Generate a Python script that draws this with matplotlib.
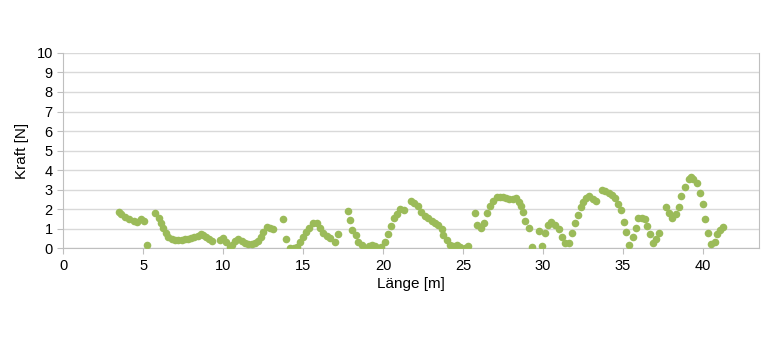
import matplotlib.pyplot as plt

plt.rcParams['font.family'] = ['Liberation Sans', 'DejaVu Sans']
plt.rcParams['font.size'] = 10.5

laenge = [3.46, 3.62, 3.87, 4.12, 4.4, 4.64, 4.87, 5.08, 5.27,
          5.75, 5.96, 6.12, 6.27, 6.42, 6.58, 6.79, 7.0, 7.2, 7.4, 7.6, 7.8,
          8.0, 8.2, 8.4, 8.6, 8.75, 8.9, 9.1, 9.3,
          9.8, 10.0, 10.2, 10.4, 10.55, 10.75, 10.96, 11.17, 11.37, 11.58,
          11.8, 12.0, 12.2, 12.35, 12.5, 12.73, 12.94, 13.1, 13.73, 13.94,
          14.2, 14.4, 14.6, 14.8, 14.98, 15.2, 15.4, 15.65, 15.85, 16.06,
          16.27, 16.48, 16.7, 17.0, 17.2, 17.8, 17.94, 18.08, 18.3, 18.46,
          18.67, 18.9, 19.1, 19.3, 19.5, 19.7, 19.9, 20.1, 20.3, 20.5, 20.7,
          20.86, 21.06, 21.3, 21.75, 21.96, 22.17, 22.4, 22.6, 22.8, 23.05,
          23.25, 23.46, 23.67, 23.77, 23.98, 24.2, 24.4, 24.6, 24.8, 25.1,
          25.3, 25.75, 25.9, 26.1, 26.3, 26.5, 26.7, 26.9, 27.1, 27.3, 27.5,
          27.7, 27.9, 28.1, 28.3, 28.5, 28.6, 28.77, 28.9, 29.1, 29.3, 29.75,
          29.96, 30.1, 30.3, 30.5, 30.75, 31.0, 31.2, 31.4, 31.6, 31.8, 32.0,
          32.2, 32.35, 32.5, 32.7, 32.9, 33.1, 33.3, 33.7, 33.9, 34.1, 34.3,
          34.5, 34.7, 34.85, 35.06, 35.2, 35.4, 35.6, 35.8, 35.96, 36.2, 36.4,
          36.5, 36.7, 36.86, 37.06, 37.27, 37.7, 37.9, 38.06, 38.3, 38.5,
          38.65, 38.9, 39.1, 39.25, 39.4, 39.6, 39.8, 39.98, 40.1, 40.3, 40.5,
          40.75, 40.9, 41.06, 41.27]
kraft = [1.83, 1.74, 1.6, 1.49, 1.38, 1.35, 1.49, 1.38, 0.15,
         1.78, 1.56, 1.27, 1.01, 0.8, 0.58, 0.46, 0.41, 0.42, 0.42, 0.45, 0.47,
         0.5, 0.55, 0.63, 0.7, 0.65, 0.58, 0.48, 0.38,
         0.4, 0.53, 0.33, 0.07, 0.15, 0.36, 0.46, 0.36, 0.24, 0.19,
         0.19, 0.24, 0.36, 0.58, 0.84, 1.09, 1.01, 0.96, 1.47, 0.46,
         0.02, 0.02, 0.07, 0.32, 0.58, 0.84, 1.04, 1.27, 1.27, 1.04,
         0.8, 0.63, 0.5, 0.32, 0.7, 1.9, 1.44, 0.92, 0.67, 0.33,
         0.15, 0.02, 0.12, 0.15, 0.12, 0.02, 0.07, 0.29, 0.75, 1.14, 1.52,
         1.73, 2.03, 1.98, 2.43, 2.29, 2.17, 1.86, 1.66, 1.52, 1.38,
         1.27, 1.18, 0.97, 0.67, 0.41, 0.15, 0.12, 0.15, 0.07, 0.02,
         0.1, 1.81, 1.18, 1.01, 1.3, 1.78, 2.15, 2.43, 2.6, 2.64, 2.6,
         2.55, 2.5, 2.5, 2.55, 2.38, 2.15, 1.86, 1.4, 1.01, 0.07, 0.87,
         0.1, 0.79, 1.18, 1.35, 1.18, 0.96, 0.58, 0.27, 0.24, 0.79, 1.27,
         1.69, 2.12, 2.38, 2.55, 2.67, 2.5, 2.43, 2.97, 2.94, 2.84, 2.72,
         2.55, 2.26, 1.95, 1.35, 0.84, 0.15, 0.58, 1.01, 1.52, 1.57, 1.47,
         1.13, 0.75, 0.27, 0.45, 0.79, 2.09, 1.78, 1.52, 1.74, 2.12,
         2.67, 3.14, 3.55, 3.66, 3.52, 3.35, 2.84, 2.26, 1.47, 0.79, 0.2,
         0.32, 0.72, 0.92, 1.06]

fig = plt.figure(figsize=(7.8, 3.53), dpi=100)
ax = fig.add_axes([0.081, 0.297, 0.892, 0.553])

ax.scatter(laenge, kraft, s=30, color='#9BBB59', zorder=3, linewidths=0)

ax.set_xlim(0, 43.5)
ax.set_ylim(0, 10)
ax.set_xticks(range(0, 41, 5))
ax.set_yticks(range(0, 11))
ax.grid(axis='y', color='#D9D9D9', linewidth=1)
ax.set_axisbelow(True)
for side in ['left', 'bottom', 'right']:
    ax.spines[side].set_color('#BFBFBF')
ax.spines['top'].set_visible(False)
ax.tick_params(colors='#BFBFBF', labelcolor='black', length=4, labelsize=10.5)

ax.set_xlabel('Länge [m]', labelpad=3, fontsize=11)
ax.set_ylabel('Kraft [N]', labelpad=5, fontsize=11)

fig.savefig('out.png', dpi=100)
